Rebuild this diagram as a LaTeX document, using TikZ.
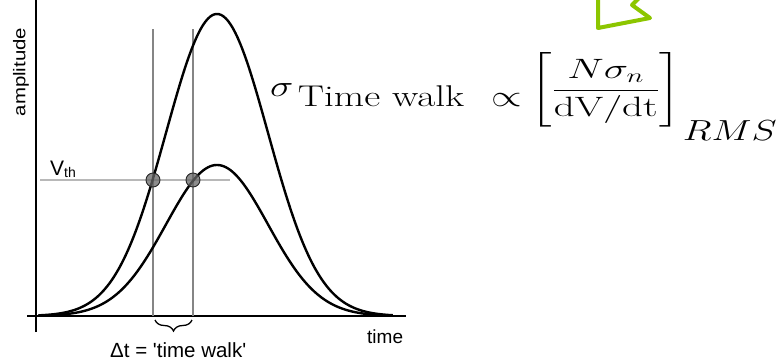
\RequirePackage{fix-cm}
\documentclass[tikz,border=0pt]{standalone}
\usepackage{amsmath}
\usepackage{fontspec}
\newfontfamily\arial{Liberation Sans}
\usetikzlibrary{decorations.pathreplacing}
\definecolor{mygreen}{RGB}{140,198,0}
\begin{document}
\begin{tikzpicture}[x=1pt,y=-1pt,
  curve/.style={line width=2.4pt, black},
  guide/.style={line width=2.8pt, black!48},
  thline/.style={line width=1.6pt, black!28},
  axisline/.style={line width=1.4pt, black},
  dot/.style={circle, minimum size=14pt, inner sep=0pt, fill=black!60, fill opacity=0.75, draw=black!85, line width=0.9pt},
  lab/.style={inner sep=0pt, font=\arial\fontsize{20}{24}\selectfont}]
\useasboundingbox (0,0) rectangle (777,360);

% axes
\coordinate (yb) at (36,332); \coordinate (yt) at (36,-2);
\coordinate (xl) at (27,316); \coordinate (xr) at (406,316);
\draw[axisline] (yb) -- (yt);
\draw[axisline] (xl) -- (xr);

% threshold and guide lines
\coordinate (thl) at (40,180); \coordinate (thr) at (230,180);
\draw[thline] (thl) -- (thr);
\coordinate (g1t) at (153,29); \coordinate (g1b) at (153,316);
\coordinate (g2t) at (193,29); \coordinate (g2b) at (193,316);
\draw[guide] (g1t) -- (g1b);
\draw[guide] (g2t) -- (g2b);

% pulses
\draw[curve] plot[domain=-3.5:3.45,samples=160,smooth] ({217+51*\x},{316-302*exp(-\x*\x/2)});
\draw[curve] plot[domain=-3.5:3.45,samples=160,smooth] ({217+51*\x},{316-151*exp(-\x*\x/2)});

% crossing points
\node[dot] (d1) at (153,180) {};
\node[dot] (d2) at (193,180) {};

% brace
\coordinate (bl) at (155,320); \coordinate (br) at (192,320);
\draw[decorate, decoration={brace, mirror, amplitude=11pt, aspect=0.5}, line width=1.3pt] (bl) -- (br);

% labels
\node[lab, rotate=90, font=\arial\fontsize{17}{20}\selectfont] (amp) at (21,72) {\scalebox{1.2}[1]{amplitude}};
\node[lab, anchor=base west, font=\arial\fontsize{21}{24}\selectfont] (vth) at (50,175) {V\raisebox{-2pt}{\fontsize{14}{14}\selectfont th}};
\node[lab, anchor=base west, font=\arial\fontsize{19}{22}\selectfont] (time) at (367,343) {time};
\node[lab, anchor=base west, font=\arial\fontsize{20.5}{24}\selectfont] (dt) at (110,357) {Δt = \textquotesingle time walk\textquotesingle};

% formula
\node[anchor=base west, inner sep=0pt] (formula) at (270,106) {\fontsize{30}{36}\selectfont\delimitershortfall=-6pt\scalebox{1.31}[1]{$\raisebox{10pt}{$\sigma$}\mkern2mu\text{Time walk}\mkern7.5mu\propto\mkern-1mu\raisebox{9pt}{\fontsize{28}{34}\selectfont\scalebox{1.12}[1]{$\displaystyle\left[\frac{N\sigma_n}{\mathrm{dV/dt}}\right]$}}\mkern1mu\raisebox{-34pt}{\fontsize{29}{29}\selectfont$RMS$}$}};

% green mark
\coordinate (m1) at (598,-4); \coordinate (m2) at (598,28); \coordinate (m3) at (650,18);
\coordinate (m4) at (632,5); \coordinate (m5) at (641,-4);
\draw[mygreen, line width=4pt, line join=round] (m1) -- (m2) -- (m3) -- (m4) -- (m5);
\end{tikzpicture}
\end{document}
